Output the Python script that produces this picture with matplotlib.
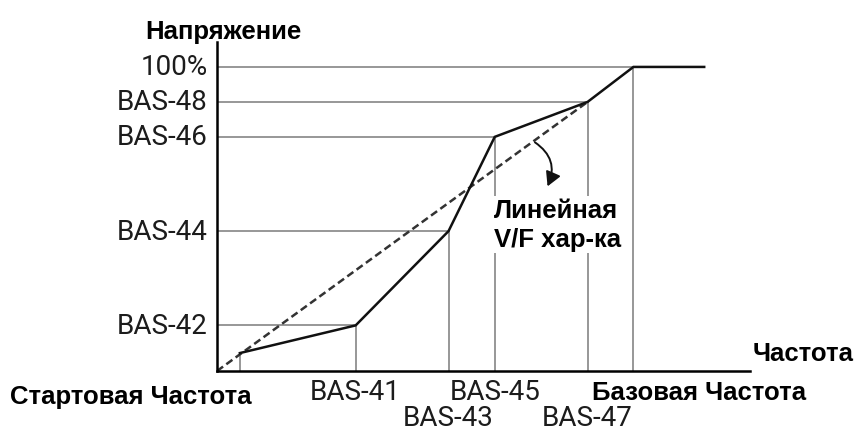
import matplotlib
matplotlib.use('Agg')
import matplotlib.pyplot as plt
from matplotlib.patches import FancyArrowPatch

# V/F pattern, values in % of base frequency / % of full voltage
freq_pts = [5.5, 33.3, 55.6, 66.7, 89.0, 100.0, 117.0]
volt_pts = [5.9, 15.0, 46.0, 77.0, 88.5, 100.0, 100.0]
freq_labels = ['BAS-41', 'BAS-43', 'BAS-45', 'BAS-47']
volt_labels = ['BAS-42', 'BAS-44', 'BAS-46', 'BAS-48', '100%']
label_rows = [0, 1, 0, 1]   # staggered x labels

W, H = 859, 431
fig = plt.figure(figsize=(W / 100, H / 100), dpi=100)
x0, y0 = 217, 372
ax = fig.add_axes([x0 / W, (H - y0) / H, 533 / W, 329 / H])
ax.set_xlim(0, 128)
ax.set_ylim(0, 108.2)
for s in ['top', 'right']:
    ax.spines[s].set_visible(False)
for s in ['left', 'bottom']:
    ax.spines[s].set_linewidth(1.8)
    ax.spines[s].set_zorder(5)
ax.set_xticks([])
ax.set_yticks([])

grey = '#7a7a7a'
# guide lines from each corner point to the axes
for f, v in zip(freq_pts[1:6], volt_pts[1:6]):
    ax.plot([0, f], [v, v], color=grey, lw=1.1, zorder=1)
    ax.plot([f, f], [0, v], color=grey, lw=1.1, zorder=1)
ax.plot([freq_pts[0], freq_pts[0]], [0, volt_pts[0]], color=grey, lw=1.1, zorder=1)

# linear V/F
ax.plot([0, freq_pts[4]], [0, volt_pts[4]], color='#333333', lw=1.8,
        ls=(0, (3, 1.6)), zorder=3)
# user V/F
ax.plot(freq_pts, volt_pts, color='#111111', lw=1.8, zorder=4,
        solid_joinstyle='miter')

tick_font = dict(family='Roboto', fontsize=20, color='#1c1c1c')
bold_font = dict(family='Liberation Sans', fontsize=18.5, fontweight='bold',
                 color='black')

for v, lab in zip(volt_pts[1:6], volt_labels):
    ax.text(-2.2, v, lab, ha='right', va='center', clip_on=False, **tick_font)

for f, lab, row in zip(freq_pts[1:5], freq_labels, label_rows):
    ax.text(f, -6.6 - row * 8.6, lab, ha='center', va='center',
            clip_on=False, **tick_font)

ax.text(-17.3, 111.8, 'Напряжение', ha='left', va='center', clip_on=False,
        **bold_font)
ax.text(128.7, 6.0, 'Частота', ha='left', va='center', clip_on=False,
        **bold_font)
ax.text(90.0, -6.9, 'Базовая Частота', ha='left', va='center', clip_on=False,
        **bold_font)
ax.text(-49.6, -8.2, 'Стартовая Частота', ha='left', va='center', clip_on=False,
        **bold_font)

ax.text(66.6, 48.2, 'Линейная\nV/F хар-ка', ha='left', va='center',
        linespacing=1.3, zorder=6,
        bbox=dict(facecolor='white', edgecolor='none', pad=1.5),
        **bold_font)

arrow = FancyArrowPatch((75.8, 75.7), (79.1, 59.9),
                        connectionstyle='arc3,rad=-0.45',
                        arrowstyle='-|>,head_length=8.5,head_width=4.7',
                        color='#111111', lw=1.4, zorder=7)
ax.add_patch(arrow)

fig.savefig('out.png', dpi=100)
